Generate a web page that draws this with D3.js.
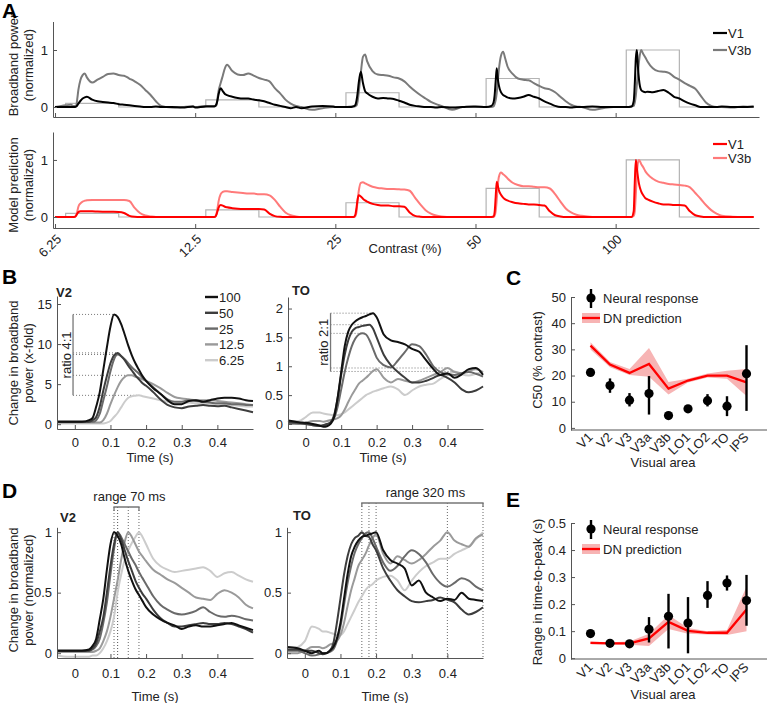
<!DOCTYPE html>
<html><head><meta charset="utf-8">
<script src="https://cdn.jsdelivr.net/npm/d3@7"></script>
<style>
body{margin:0;background:#fff;}
</style></head><body>
<svg id="fig" width="768" height="703" style="background:#fff"></svg>
<script>
// ================= DATA =================
// Panel A: five stimulus blocks (contrast levels), local time grid (s, relative to stimulus onset)
const contrasts = [6.25, 12.5, 25, 50, 100];
const contrastLabels = ["6.25", "12.5", "25", "50", "100"];
const tA = [-0.1, 0, 0.05, 0.07, 0.08, 0.09, 0.1, 0.11, 0.12, 0.14, 0.16, 0.18, 0.2, 0.25, 0.3, 0.35, 0.4, 0.45, 0.5, 0.55, 0.6, 0.65, 0.7, 0.75, 0.8, 0.85, 0.9, 1.0, 1.1, 1.2];
const powerV1 = [
  [0,0,0,0,0,0,0.01,0.03,0.06,0.11,0.15,0.17,0.18,0.13,0.10,0.09,0.08,0.07,0.05,0.04,0.03,0.02,0.01,0,0,0.01,0,0,-0.01,0.01],
  [-0.01,0.01,0.01,0.01,0.01,0.02,0.05,0.12,0.22,0.33,0.28,0.23,0.21,0.18,0.16,0.15,0.15,0.13,0.12,0.10,0.07,0.04,0.02,0,-0.02,0,-0.02,0.01,0.02,0.01],
  [0,0,0,0.01,0.02,0.04,0.12,0.25,0.42,0.62,0.42,0.28,0.24,0.18,0.15,0.16,0.15,0.14,0.11,0.08,0.04,0.02,0.01,0,0,-0.01,0,-0.01,0,0.01],
  [0.01,0,0.02,0.08,0.2,0.45,0.68,0.5,0.38,0.26,0.21,0.19,0.17,0.15,0.16,0.18,0.21,0.18,0.15,0.10,0.06,0.02,0,0,-0.01,0,0,0.01,0,0],
  [0,0,0.01,0.1,0.4,0.85,1.0,0.7,0.48,0.3,0.27,0.26,0.27,0.26,0.28,0.30,0.25,0.18,0.15,0.10,0.06,0.03,0,0,0,0,0.01,0,0,0.01]
];
const powerV3b = [
  [0,0.03,0.04,0.02,0.02,0.02,0.03,0.15,0.3,0.48,0.56,0.59,0.52,0.43,0.48,0.53,0.58,0.59,0.56,0.55,0.5,0.45,0.39,0.3,0.21,0.1,0.02,-0.01,0,0.01],
  [0,0.02,0.02,0.02,0.02,0.02,0.03,0.15,0.28,0.42,0.55,0.68,0.74,0.63,0.57,0.56,0.59,0.55,0.51,0.48,0.45,0.33,0.24,0.13,0.06,0.02,0,-0.05,-0.02,0],
  [0,0,0.01,0.01,0.01,0.02,0.03,0.1,0.25,0.6,0.88,0.92,0.8,0.63,0.57,0.56,0.55,0.52,0.5,0.45,0.36,0.28,0.21,0.15,0.09,0.05,0.02,-0.05,0,0],
  [0,0,0,0.01,0.05,0.12,0.25,0.45,0.65,0.9,0.97,0.85,0.72,0.58,0.5,0.48,0.47,0.42,0.37,0.33,0.31,0.26,0.18,0.1,0.04,0.01,0,-0.05,-0.02,0],
  [0,0,0.01,0.02,0.08,0.2,0.4,0.6,0.8,1.0,0.93,0.87,0.8,0.68,0.63,0.62,0.6,0.53,0.48,0.42,0.37,0.32,0.2,0.08,0.02,0,0,-0.01,0.01,0]
];
const modelV1 = [
  [0,0,0,0,0,0.005,0.03,0.06,0.085,0.1,0.1,0.1,0.1,0.1,0.095,0.092,0.09,0.09,0.088,0.07,0.02,0.003,0,0,0,0,0,0,0,0],
  [0,0,0,0,0,0.005,0.04,0.1,0.16,0.21,0.2,0.18,0.17,0.155,0.145,0.14,0.14,0.14,0.14,0.13,0.06,0.015,0.003,0,0,0,0,0,0,0],
  [0,0,0,0,0.01,0.05,0.17,0.31,0.38,0.36,0.32,0.29,0.27,0.23,0.21,0.2,0.2,0.19,0.19,0.18,0.08,0.02,0.005,0,0,0,0,0,0,0],
  [0,0,0,0.01,0.08,0.35,0.62,0.55,0.47,0.39,0.34,0.31,0.29,0.26,0.24,0.23,0.22,0.22,0.21,0.2,0.1,0.03,0.01,0,0,0,0,0,0,0],
  [0,0,0,0.1,0.6,1.0,0.85,0.7,0.58,0.45,0.38,0.33,0.31,0.27,0.24,0.22,0.22,0.21,0.21,0.2,0.1,0.03,0.01,0,0,0,0,0,0,0]
];
const modelV3b = [
  [0,0,0,0,0,0.005,0.03,0.1,0.18,0.24,0.27,0.285,0.295,0.3,0.3,0.3,0.3,0.3,0.3,0.3,0.28,0.16,0.07,0.025,0.01,0,0,0,0,0],
  [0,0,0,0,0,0.01,0.05,0.15,0.27,0.4,0.44,0.45,0.45,0.44,0.43,0.42,0.41,0.41,0.4,0.4,0.38,0.3,0.18,0.08,0.03,0.01,0,0,0,0],
  [0,0,0,0,0,0.02,0.1,0.3,0.45,0.6,0.61,0.59,0.57,0.53,0.51,0.5,0.49,0.49,0.485,0.48,0.46,0.34,0.22,0.12,0.06,0.025,0.01,0,0,0],
  [0,0,0,0,0.02,0.1,0.3,0.55,0.7,0.78,0.75,0.72,0.68,0.6,0.56,0.54,0.54,0.53,0.52,0.52,0.5,0.4,0.27,0.15,0.08,0.04,0.02,0,0,0],
  [0,0,0,0.02,0.1,0.4,0.75,0.95,1.0,0.93,0.87,0.8,0.75,0.67,0.62,0.6,0.58,0.57,0.56,0.55,0.52,0.42,0.32,0.21,0.12,0.06,0.02,0.005,0,0]
];

// Panels B, D: time grid (s)
const tBD = [-0.05,-0.02,0,0.02,0.04,0.05,0.06,0.07,0.08,0.09,0.1,0.11,0.12,0.13,0.14,0.15,0.16,0.17,0.18,0.19,0.2,0.22,0.24,0.26,0.28,0.3,0.32,0.34,0.36,0.38,0.4,0.42,0.44,0.46,0.48,0.5];
const legendContrasts = ["6.25", "12.5", "25", "50", "100"];
const contrastColors = ["#cccccc", "#9a9a9a", "#6a6a6a", "#3d3d3d", "#111111"];

// B: change in broadband power (x-fold)
const foldV2_6  = [0.1,0.1,0.1,0.1,0.1,0.1,0.1,0.1,0.1,0.2,0.4,0.9,1.4,2.1,2.8,3.3,3.5,3.55,3.6,3.5,3.4,3.2,3.0,2.8,2.6,2.6,2.7,2.6,2.6,2.6,2.5,2.5,2.4,2.3,2.2,2.2];
const foldV2_12 = [0.2,0.2,0.2,0.2,0.2,0.2,0.2,0.2,0.5,1.3,2.5,3.6,4.6,5.4,5.9,6.1,6.1,5.9,5.8,5.6,5.4,5.0,4.5,3.9,3.4,3.2,3.1,3.0,3.0,3.0,2.9,2.8,2.7,2.6,2.5,2.4];
const foldV2_25 = [0.3,0.3,0.3,0.3,0.3,0.3,0.5,1.3,3.0,4.7,6.6,8.1,8.7,8.5,8.1,7.6,7.1,6.7,6.3,5.8,5.4,4.6,3.8,3.1,2.8,2.8,3.0,2.9,2.8,2.7,2.6,2.6,2.5,2.5,2.4,2.4];
const foldV2_50 = [0.3,0.3,0.3,0.3,0.3,0.5,0.9,2.2,4.2,6.0,7.6,8.6,8.9,8.5,8.0,7.3,6.7,6.1,5.6,5.1,4.8,4.0,3.1,2.4,2.1,2.0,2.2,2.3,2.4,2.3,2.25,2.3,2.1,1.9,1.7,1.5];
const foldV2_100= [0.3,0.3,0.3,0.3,0.5,0.8,2.2,4.0,6.8,9.6,12.2,13.7,13.4,12.5,11.2,9.8,8.6,7.6,6.8,6.0,5.4,4.5,3.8,3.0,2.5,2.5,2.9,3.0,2.8,3.0,3.2,3.3,3.3,3.2,3.0,2.9];
const foldTO_6  = [0.05,0.05,0.12,0.2,0.2,0.18,0.17,0.16,0.15,0.15,0.17,0.2,0.25,0.3,0.35,0.4,0.45,0.5,0.53,0.56,0.58,0.62,0.65,0.6,0.5,0.58,0.65,0.68,0.7,0.78,0.85,0.91,0.86,0.84,0.87,0.9];
const foldTO_12 = [0.0,0.0,0.02,0.05,0.05,0.04,0.05,0.07,0.08,0.1,0.15,0.25,0.38,0.5,0.6,0.7,0.75,0.8,0.86,0.92,0.95,0.8,0.72,0.78,0.75,0.72,0.75,0.8,0.85,0.9,0.97,0.9,0.88,0.92,0.95,0.9];
const foldTO_25 = [0.02,0.01,0.0,-0.02,-0.03,-0.02,-0.01,0.02,0.1,0.3,0.6,0.9,1.15,1.35,1.48,1.55,1.57,1.55,1.45,1.3,1.15,1.02,0.98,1.1,1.25,1.38,1.35,1.2,1.0,0.9,0.86,0.85,0.88,0.9,0.87,0.82];
const foldTO_50 = [0.03,0.02,0.0,-0.02,-0.03,-0.02,0.0,0.03,0.15,0.45,0.85,1.2,1.45,1.6,1.66,1.68,1.7,1.71,1.72,1.65,1.5,1.2,1.02,0.9,0.8,0.72,0.72,0.75,0.8,0.85,0.8,0.72,0.6,0.55,0.58,0.65];
const foldTO_100= [0.06,0.03,0.02,0.0,-0.03,-0.05,-0.04,0.0,0.12,0.45,0.9,1.35,1.6,1.72,1.78,1.82,1.85,1.87,1.9,1.92,1.85,1.55,1.45,1.42,1.38,1.3,1.25,1.1,0.95,0.85,0.88,0.8,0.86,0.95,0.97,0.85];

// D: normalized
const normV2_6  = [-0.02,-0.03,-0.03,-0.03,-0.03,-0.02,-0.02,0.0,0.04,0.1,0.18,0.3,0.5,0.65,0.77,0.85,0.91,0.96,1.0,0.96,0.9,0.78,0.72,0.69,0.67,0.68,0.69,0.7,0.71,0.68,0.63,0.66,0.67,0.64,0.61,0.59];
const normV2_12 = [0.01,0.01,0.01,0.01,0.01,0.01,0.02,0.04,0.1,0.18,0.3,0.45,0.6,0.77,0.92,1.0,0.96,0.9,0.84,0.8,0.76,0.69,0.65,0.61,0.58,0.54,0.5,0.46,0.45,0.44,0.49,0.52,0.5,0.46,0.4,0.37];
const normV2_25 = [0.02,0.02,0.02,0.02,0.02,0.03,0.06,0.12,0.25,0.42,0.65,0.86,1.0,0.96,0.9,0.84,0.78,0.73,0.67,0.62,0.57,0.47,0.4,0.36,0.33,0.32,0.33,0.35,0.38,0.34,0.31,0.3,0.31,0.3,0.28,0.27];
const normV2_50 = [0.02,0.02,0.02,0.02,0.02,0.04,0.08,0.18,0.3,0.5,0.72,0.9,1.0,0.94,0.85,0.76,0.68,0.6,0.54,0.49,0.45,0.36,0.29,0.25,0.22,0.22,0.23,0.24,0.25,0.24,0.24,0.25,0.24,0.22,0.2,0.17];
const normV2_100= [0.02,0.02,0.02,0.02,0.03,0.06,0.12,0.28,0.45,0.69,0.9,1.0,0.97,0.9,0.78,0.68,0.6,0.53,0.48,0.43,0.38,0.32,0.28,0.25,0.23,0.2,0.22,0.23,0.22,0.22,0.23,0.24,0.25,0.23,0.21,0.19];
const normTO_6  = [0.03,0.05,0.1,0.22,0.2,0.18,0.18,0.17,0.16,0.15,0.15,0.18,0.24,0.3,0.36,0.42,0.47,0.52,0.55,0.57,0.6,0.63,0.64,0.6,0.52,0.6,0.67,0.72,0.75,0.78,0.78,0.82,0.85,0.88,0.94,1.0];
const normTO_12 = [0.0,0.0,0.02,0.05,0.05,0.04,0.05,0.07,0.08,0.1,0.15,0.25,0.39,0.52,0.62,0.72,0.77,0.82,0.89,0.95,0.98,0.82,0.74,0.8,0.77,0.74,0.77,0.82,0.88,0.93,1.0,0.93,0.9,0.88,0.95,0.98];
const normTO_25 = [0.02,0.02,0.0,-0.02,-0.01,0.0,0.0,0.01,0.03,0.1,0.22,0.4,0.58,0.72,0.83,0.9,0.95,0.99,1.0,0.95,0.88,0.75,0.68,0.72,0.8,0.85,0.82,0.75,0.65,0.58,0.55,0.58,0.62,0.6,0.55,0.52];
const normTO_50 = [0.03,0.03,0.02,0.02,0.0,-0.01,0.0,0.02,0.08,0.25,0.45,0.65,0.8,0.9,0.95,0.97,1.0,0.97,0.96,0.9,0.85,0.7,0.6,0.52,0.47,0.43,0.42,0.43,0.44,0.46,0.44,0.42,0.36,0.32,0.34,0.38];
const normTO_100= [0.05,0.04,0.02,0.0,0.02,0.0,0.0,0.02,0.05,0.12,0.25,0.45,0.65,0.8,0.88,0.93,0.96,0.97,0.98,0.99,1.0,0.85,0.77,0.74,0.7,0.56,0.6,0.5,0.46,0.43,0.45,0.44,0.5,0.45,0.44,0.43];
const rangeLabels = ["range 70 ms", "range 320 ms"];
const ratioLabels = ["ratio 4:1", "ratio 2:1"];

// Panels C, E
const areas = ["V1","V2","V3","V3a","V3b","LO1","LO2","TO","IPS"];
const c50Neural = [21.2,16.2,10.6,13.1,4.7,7.3,10.4,8.3,20.7];
const c50Low    = [20.5,13.4,8.2,5.1,4.2,6.8,8.2,4.5,6.5];
const c50High   = [21.9,18.9,13.3,19.8,5.2,7.8,12.9,12.1,31.6];
const c50Model     = [31.4,24.2,21.0,24.4,15.0,18.1,20.0,20.0,17.4];
const c50ModelLow  = [29.9,23.2,20.2,19.5,12.8,17.3,19.3,18.8,12.2];
const c50ModelHigh = [32.7,25.2,22.5,30.5,17.5,18.8,20.8,21.8,22.5];
const ttpNeural = [0.091,0.055,0.053,0.107,0.155,0.13,0.232,0.278,0.213];
const ttpLow    = [0.086,0.05,0.048,0.058,0.036,0.018,0.186,0.25,0.12];
const ttpHigh   = [0.096,0.06,0.058,0.152,0.238,0.226,0.285,0.306,0.308];
const ttpModel     = [0.057,0.055,0.055,0.073,0.134,0.101,0.094,0.094,0.18];
const ttpModelLow  = [0.052,0.051,0.05,0.045,0.108,0.09,0.088,0.086,0.1];
const ttpModelHigh = [0.062,0.059,0.062,0.09,0.16,0.112,0.1,0.104,0.264];

// ================= DRAWING =================
const F = '"Liberation Sans", Arial, Helvetica, sans-serif';
const AX = "#555";
const svg = d3.select("#fig");

function styleAxis(g){
  g.attr("font-family", F).attr("font-size", 13);
  g.select(".domain").attr("stroke", AX).attr("stroke-width", 1);
  g.selectAll(".tick line").attr("stroke", AX);
  g.selectAll(".tick text").attr("fill", "#222");
}
function yAxis(scale, x, vals, pad){
  const g = svg.append("g").attr("transform", `translate(${x},0)`)
    .call(d3.axisLeft(scale).tickValues(vals).tickSize(-4).tickSizeOuter(0).tickPadding(pad || 5).tickFormat(d3.format("")));
  styleAxis(g); return g;
}
function xAxis(scale, y, vals, pad, fmt){
  const g = svg.append("g").attr("transform", `translate(0,${y})`)
    .call(d3.axisBottom(scale).tickValues(vals).tickSize(-4).tickSizeOuter(0).tickPadding(pad || 8).tickFormat(fmt || d3.format("")));
  styleAxis(g); return g;
}
function txt(x, y, s, o = {}){
  const t = svg.append("text").attr("x", x).attr("y", y).text(s)
    .attr("font-family", F).attr("font-size", o.size || 13)
    .attr("text-anchor", o.anchor || "start").attr("fill", o.fill || "#222");
  if (o.weight) t.attr("font-weight", o.weight);
  if (o.rot) t.attr("transform", `rotate(${o.rot},${x},${y})`);
  return t;
}

// ---------- Panel A ----------
const blockLen = 1.32, preStim = 0.1, stimDur = 0.5;
const gT = (b, t) => b * blockLen + preStim + t;
const xA = d3.scaleLinear().domain([-0.019, 6.63]).range([53, 759]);
const yA1 = d3.scaleLinear().domain([-0.175, 1.5]).range([117, 21.5]);
const yA2 = d3.scaleLinear().domain([-0.193, 1.49]).range([228, 132]);
const blockStarts = contrasts.map((c, b) => b * blockLen);

function tracePts(series){
  const pts = [];
  series.forEach((row, b) => row.forEach((v, i) => pts.push([gT(b, tA[i]), v])));
  return pts;
}
const stimPts = [];
contrasts.forEach((c, b) => {
  stimPts.push([gT(b, -0.1), 0], [gT(b, 0), 0], [gT(b, 0), c / 100], [gT(b, stimDur), c / 100], [gT(b, stimDur), 0], [gT(b, 1.2), 0]);
});

[[yA1, powerV1, powerV3b, "#000", "#7a7a7a", 117], [yA2, modelV1, modelV3b, "#ff0000", "#ff7a7a", 228]].forEach(([ys, s1, s2, c1, c2, axY]) => {
  const lineStim = d3.line().x(d => xA(d[0])).y(d => ys(d[1]));
  const lineTr = d3.line().x(d => xA(d[0])).y(d => ys(d[1])).curve(d3.curveMonotoneX);
  svg.append("path").attr("d", lineStim(stimPts)).attr("fill", "none").attr("stroke", "#b4b4b4").attr("stroke-width", 1.2);
  svg.append("path").attr("d", lineTr(tracePts(s2))).attr("fill", "none").attr("stroke", c2).attr("stroke-width", 2).attr("stroke-linejoin", "round");
  svg.append("path").attr("d", lineTr(tracePts(s1))).attr("fill", "none").attr("stroke", c1).attr("stroke-width", 2).attr("stroke-linejoin", "round");
  yAxis(ys, 53, [0, 1]);
  xAxis(xA, axY, blockStarts, 8, () => "");
});
// contrast tick labels (rotated)
blockStarts.forEach((g, i) => {
  const x = xA(g) + 7, y = 240;
  txt(x, y, contrastLabels[i], {anchor: "end", rot: -45});
});
txt(405, 253, "Contrast (%)", {anchor: "middle"});
// legends A
[["V1", "#000", 33], ["V3b", "#7a7a7a", 50]].forEach(([l, c, y]) => {
  svg.append("line").attr("x1", 713).attr("x2", 727).attr("y1", y).attr("y2", y).attr("stroke", c).attr("stroke-width", 2.2);
  txt(728, y + 5, l);
});
[["V1", "#ff0000", 144], ["V3b", "#ff7a7a", 158]].forEach(([l, c, y]) => {
  svg.append("line").attr("x1", 713).attr("x2", 727).attr("y1", y).attr("y2", y).attr("stroke", c).attr("stroke-width", 2.2);
  txt(728, y + 5, l);
});
txt(18, 65, "Broadband power", {anchor: "middle", rot: -90});
txt(33, 65, "(normalized)", {anchor: "middle", rot: -90});
txt(18, 185, "Model prediction", {anchor: "middle", rot: -90});
txt(33, 185, "(normalized)", {anchor: "middle", rot: -90});

// ---------- Panels B & D ----------
const timeTicks = [0, 0.1, 0.2, 0.3, 0.4];
function drawTraces(xs, ys, series){
  const line = d3.line().x((d, i) => xs(tBD[i])).y(d => ys(d)).curve(d3.curveMonotoneX);
  series.forEach((s, k) => {
    svg.append("path").attr("d", line(s)).attr("fill", "none").attr("stroke", contrastColors[k]).attr("stroke-width", 2).attr("stroke-linejoin", "round");
  });
}
const xB1 = d3.scaleLinear().domain([-0.05, 0.5]).range([57, 253]);
const xB2 = d3.scaleLinear().domain([-0.05, 0.5]).range([288, 483]);
const yB1 = d3.scaleLinear().domain([-0.6, 16]).range([429, 296]);
const yB2 = d3.scaleLinear().domain([-0.087, 2.2]).range([429, 297]);
const seriesBV2 = [foldV2_6, foldV2_12, foldV2_25, foldV2_50, foldV2_100];
const seriesBTO = [foldTO_6, foldTO_12, foldTO_25, foldTO_50, foldTO_100];

function ratioAnnot(xs, ys, series, barT, label){
  const peaks = series.map(s => { const i = d3.maxIndex(s); return [tBD[i], s[i]]; });
  const hi = d3.max(peaks, p => p[1]), lo = d3.min(peaks, p => p[1]);
  const bx = xs(barT);
  peaks.forEach(p => svg.append("line").attr("x1", bx).attr("x2", xs(p[0])).attr("y1", ys(p[1])).attr("y2", ys(p[1]))
    .attr("stroke", "#777").attr("stroke-width", 1).attr("stroke-dasharray", "1,2"));
  svg.append("line").attr("x1", bx).attr("x2", bx).attr("y1", ys(hi)).attr("y2", ys(lo)).attr("stroke", "#777").attr("stroke-width", 1.3);
  txt(bx - 2.5, (ys(hi) + ys(lo)) / 2, label, {anchor: "middle", rot: -90});
}
ratioAnnot(xB1, yB1, seriesBV2, -0.005, ratioLabels[0]);
ratioAnnot(xB2, yB2, seriesBTO, 0.07, ratioLabels[1]);
drawTraces(xB1, yB1, seriesBV2);
drawTraces(xB2, yB2, seriesBTO);
yAxis(yB1, 57, [0, 5, 10, 15]);
yAxis(yB2, 288, [0, 0.5, 1, 1.5, 2]);
xAxis(xB1, 429, timeTicks, 9);
xAxis(xB2, 429, timeTicks, 9);
txt(150, 462, "Time (s)", {anchor: "middle"});
txt(383, 462, "Time (s)", {anchor: "middle"});
txt(56, 297, "V2", {weight: "bold"});
txt(292, 295, "TO", {weight: "bold"});
txt(18, 363, "Change in broadband", {anchor: "middle", rot: -90});
txt(33, 363, "power (x-fold)", {anchor: "middle", rot: -90});
// legend B
legendContrasts.slice().reverse().forEach((l, j) => {
  const k = legendContrasts.length - 1 - j;
  const y = 297 + j * 15.8;
  svg.append("line").attr("x1", 205).attr("x2", 218).attr("y1", y).attr("y2", y).attr("stroke", contrastColors[k]).attr("stroke-width", 2.4);
  txt(219, y + 5, l);
});

const xD1 = d3.scaleLinear().domain([-0.05, 0.5]).range([57, 253]);
const xD2 = d3.scaleLinear().domain([-0.05, 0.5]).range([287, 483]);
const yD = d3.scaleLinear().domain([-0.04, 1.04]).range([658, 527.3]);
const seriesDV2 = [normV2_6, normV2_12, normV2_25, normV2_50, normV2_100];
const seriesDTO = [normTO_6, normTO_12, normTO_25, normTO_50, normTO_100];
function rangeAnnot(xs, series, yTop, label){
  const pt = series.map(s => tBD[d3.maxIndex(s)]);
  const x0 = xs(d3.min(pt)), x1 = xs(d3.max(pt));
  pt.forEach(t => svg.append("line").attr("x1", xs(t)).attr("x2", xs(t)).attr("y1", yTop).attr("y2", yD(-0.04))
    .attr("stroke", "#666").attr("stroke-width", 1).attr("stroke-dasharray", "1,2"));
  svg.append("path").attr("d", `M${x0},${yTop + 4}V${yTop}H${x1}V${yTop + 4}`).attr("fill", "none").attr("stroke", "#777").attr("stroke-width", 1.3);
  txt((x0 + x1) / 2 + 3, yTop - 6, label, {anchor: "middle"});
}
rangeAnnot(xD1, seriesDV2, 507, rangeLabels[0]);
rangeAnnot(xD2, seriesDTO, 503, rangeLabels[1]);
drawTraces(xD1, yD, seriesDV2);
drawTraces(xD2, yD, seriesDTO);
yAxis(yD, 57, [0, 0.5, 1]);
yAxis(yD, 287, [0, 0.5, 1]);
xAxis(xD1, 658, timeTicks, 11);
xAxis(xD2, 658, timeTicks, 11);
txt(155, 701, "Time (s)", {anchor: "middle"});
txt(385, 701, "Time (s)", {anchor: "middle"});
txt(60, 522, "V2", {weight: "bold"});
txt(293, 520, "TO", {weight: "bold"});
txt(18, 590, "Change in broadband", {anchor: "middle", rot: -90});
txt(33, 590, "power (normalized)", {anchor: "middle", rot: -90});

// ---------- Panels C & E ----------
const xC = d3.scaleLinear().domain([0, 10]).range([571, 766]);
function dotPanel(ys, axY, neural, lo, hi, model, mlo, mhi, ticks, legY, ylabel, ylabY, labY, titleY){
  const area = d3.area().x((d, i) => xC(i + 1)).y0((d, i) => ys(mlo[i])).y1((d, i) => ys(mhi[i]));
  svg.append("path").attr("d", area(model)).attr("fill", "#f7b4b4");
  const line = d3.line().x((d, i) => xC(i + 1)).y(d => ys(d));
  svg.append("path").attr("d", line(model)).attr("fill", "none").attr("stroke", "#ff0000").attr("stroke-width", 2.3);
  neural.forEach((v, i) => {
    svg.append("line").attr("x1", xC(i + 1)).attr("x2", xC(i + 1)).attr("y1", ys(lo[i])).attr("y2", ys(hi[i])).attr("stroke", "#000").attr("stroke-width", 2.4);
    svg.append("circle").attr("cx", xC(i + 1)).attr("cy", ys(v)).attr("r", 4.6).attr("fill", "#000");
  });
  yAxis(ys, 571, ticks);
  svg.append("line").attr("x1", 571).attr("x2", 767).attr("y1", axY).attr("y2", axY).attr("stroke", AX);
  areas.forEach((a, i) => txt(xC(i + 1) + 3, labY, a, {anchor: "end", rot: -45}));
  txt(663, titleY, "Visual area", {anchor: "middle"});
  txt(542, ylabY, ylabel, {anchor: "middle", rot: -90});
  // legend
  svg.append("line").attr("x1", 591).attr("x2", 591).attr("y1", legY - 9).attr("y2", legY + 10).attr("stroke", "#000").attr("stroke-width", 2.4);
  svg.append("circle").attr("cx", 591).attr("cy", legY).attr("r", 4.6).attr("fill", "#000");
  txt(603, legY + 5, "Neural response");
  svg.append("rect").attr("x", 582).attr("y", legY + 15).attr("width", 18).attr("height", 10).attr("fill", "#f7b4b4");
  svg.append("line").attr("x1", 582).attr("x2", 600).attr("y1", legY + 20).attr("y2", legY + 20).attr("stroke", "#ff0000").attr("stroke-width", 2.3);
  txt(603, legY + 25, "DN prediction");
}
const yC = d3.scaleLinear().domain([-0.8, 50]).range([430, 297]);
const yE = d3.scaleLinear().domain([-0.003, 0.5]).range([659, 523]);
dotPanel(yC, 430, c50Neural, c50Low, c50High, c50Model, c50ModelLow, c50ModelHigh, [0, 10, 20, 30, 40, 50], 298, "C50 (% contrast)", 360, 438, 467);
dotPanel(yE, 659, ttpNeural, ttpLow, ttpHigh, ttpModel, ttpModelLow, ttpModelHigh, [0, 0.1, 0.2, 0.3, 0.4, 0.5], 529, "Range in time-to-peak (s)", 592, 668, 699);

// ---------- Panel letters ----------
[["A", 2, 18], ["B", 2, 284], ["C", 506, 285], ["D", 2, 498], ["E", 506, 507]].forEach(([l, x, y]) => txt(x, y, l, {size: 21, weight: "bold", fill: "#000"}));
</script>
</body></html>
